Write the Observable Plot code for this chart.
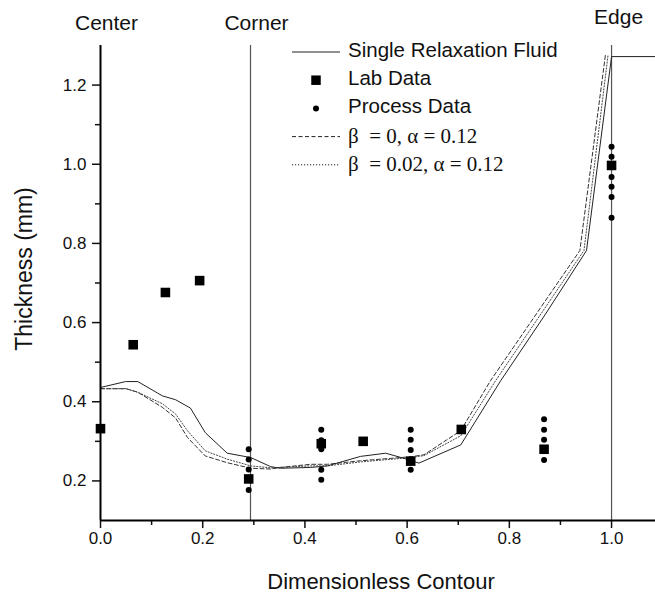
<!DOCTYPE html>
<html>
<head>
<meta charset="utf-8">
<script src="https://cdn.jsdelivr.net/npm/d3@7"></script>
<script src="https://cdn.jsdelivr.net/npm/@observablehq/plot@0.6"></script>
<style>
  body { margin: 0; background: white; }
  #wrap { position: relative; width: 655px; height: 593px; }
  #legend { position: absolute; left: 0; top: 0; pointer-events: none; }
</style>
</head>
<body>
<div id="wrap">
  <div id="chart"></div>
  <svg id="legend" width="655" height="200"></svg>
</div>
<script>
// ---- Data ----
// Single Relaxation Fluid (solid line)
const solidX = [0.0, 0.049, 0.073, 0.121, 0.147, 0.176, 0.205, 0.248, 0.294, 0.333, 0.352, 0.411, 0.444, 0.509, 0.558, 0.594, 0.623, 0.705, 0.783, 0.870, 0.951, 1.000, 1.086];
const solidY = [0.436, 0.451, 0.451, 0.415, 0.405, 0.384, 0.322, 0.270, 0.259, 0.236, 0.232, 0.234, 0.238, 0.262, 0.270, 0.257, 0.245, 0.291, 0.453, 0.620, 0.782, 1.272, 1.272];
// beta = 0, alpha = 0.12 (dashed)
const beta0X = [0.0, 0.05, 0.073, 0.121, 0.147, 0.17, 0.205, 0.248, 0.294, 0.333, 0.352, 0.411, 0.444, 0.509, 0.607, 0.633, 0.705, 0.763, 0.938, 0.988];
const beta0Y = [0.433, 0.433, 0.424, 0.386, 0.359, 0.310, 0.263, 0.246, 0.232, 0.230, 0.234, 0.242, 0.242, 0.251, 0.261, 0.266, 0.327, 0.453, 0.782, 1.276];
// beta = 0.02, alpha = 0.12 (dotted)
const beta02X = [0.0, 0.05, 0.073, 0.121, 0.147, 0.17, 0.205, 0.248, 0.294, 0.333, 0.411, 0.444, 0.509, 0.607, 0.633, 0.705, 0.773, 0.946, 0.993];
const beta02Y = [0.433, 0.433, 0.424, 0.395, 0.369, 0.327, 0.276, 0.255, 0.238, 0.233, 0.238, 0.238, 0.248, 0.259, 0.264, 0.314, 0.453, 0.782, 1.274];
// Lab Data (squares)
const labX = [0.0, 0.064, 0.127, 0.194, 0.29, 0.432, 0.514, 0.607, 0.706, 0.868, 1.0];
const labY = [0.332, 0.544, 0.676, 0.706, 0.205, 0.294, 0.300, 0.250, 0.330, 0.280, 0.997];
// Process Data (dots)
const processX = [0.29, 0.29, 0.29, 0.29, 0.29,
                  0.432, 0.432, 0.432, 0.432, 0.432, 0.432,
                  0.607, 0.607, 0.607, 0.607, 0.607,
                  0.868, 0.868, 0.868, 0.868,
                  1.0, 1.0, 1.0, 1.0, 1.0, 1.0, 1.0];
const processY = [0.280, 0.254, 0.229, 0.205, 0.177,
                  0.329, 0.303, 0.293, 0.280, 0.228, 0.203,
                  0.329, 0.304, 0.278, 0.254, 0.228,
                  0.356, 0.329, 0.304, 0.253,
                  1.044, 1.019, 0.993, 0.968, 0.943, 0.917, 0.865];
// Section markers
const sectionLabels = ["Center", "Corner", "Edge"];
const sectionX = [0.0, 0.2935, 1.0];
// Ticks
const xMajorTicks = [0.0, 0.2, 0.4, 0.6, 0.8, 1.0];
const xMinorTicks = [0.1, 0.3, 0.5, 0.7, 0.9];
const yMajorTicks = [0.2, 0.4, 0.6, 0.8, 1.0, 1.2];
const yMinorTicks = [0.3, 0.5, 0.7, 0.9, 1.1];
// Legend
const legendLabels = ["Single Relaxation Fluid", "Lab Data", "Process Data", "\u03B2\u00A0 = 0, \u03B1 = 0.12", "\u03B2\u00A0 = 0.02, \u03B1 = 0.12"];
const legendKinds = ["solid", "square", "dot", "dashed", "dotted"];

// ---- Build tables ----
const toRows = (xs, ys) => xs.map((x, i) => ({x, y: ys[i]}));
const solid = toRows(solidX, solidY);
const beta0 = toRows(beta0X, beta0Y);
const beta02 = toRows(beta02X, beta02Y);
const lab = toRows(labX, labY);
const proc = toRows(processX, processY);
const sections = sectionLabels.map((t, i) => ({t, x: sectionX[i]}));

const sans = "'Liberation Sans', Arial, Helvetica, sans-serif";
const serif = "'Liberation Serif', 'Times New Roman', serif";
const dashes = {solid: null, dashed: "4,2.5", dotted: "1.2,1.8"};

const chart = Plot.plot({
  width: 655,
  height: 593,
  marginTop: 45,
  marginBottom: 73,
  marginLeft: 100,
  marginRight: 0,
  x: {domain: [0, 1.086]},
  y: {domain: [0.1, 1.3]},
  style: {fontFamily: sans, fontSize: "17px", color: "#111", background: "white", overflow: "visible"},
  marks: [
    Plot.ruleX(sections.filter(d => d.x > 0), {x: "x", stroke: "#555", strokeWidth: 1.2}),
    Plot.line(beta0, {x: "x", y: "y", stroke: "#333", strokeWidth: 1, strokeDasharray: dashes.dashed}),
    Plot.line(beta02, {x: "x", y: "y", stroke: "#444", strokeWidth: 1, strokeDasharray: dashes.dotted}),
    Plot.line(solid, {x: "x", y: "y", stroke: "#222", strokeWidth: 1}),
    Plot.dot(proc, {x: "x", y: "y", r: 3, fill: "black", stroke: "none"}),
    Plot.dot(lab, {x: "x", y: "y", symbol: "square", r: 5.4, fill: "black", stroke: "none"}),
    Plot.axisX({ticks: xMajorTicks, tickSize: 8, tickPadding: 3, tickFormat: d3.format(".1f"), label: null, strokeWidth: 1.5, fontSize: 17}),
    Plot.axisX({ticks: xMinorTicks, tickSize: 5, tickFormat: () => "", label: null, strokeWidth: 1.5}),
    Plot.axisY({ticks: yMajorTicks, tickSize: 8, tickPadding: 6, tickFormat: d3.format(".1f"), label: null, strokeWidth: 1.5, fontSize: 17}),
    Plot.axisY({ticks: yMinorTicks, tickSize: 5, tickFormat: () => "", label: null, strokeWidth: 1.5}),
    Plot.ruleY([0.1], {stroke: "black", strokeWidth: 2}),
    Plot.ruleX([0], {stroke: "black", strokeWidth: 2}),
    Plot.text(sections.filter(d => d.t !== "Edge"), {x: "x", text: "t", frameAnchor: "top", lineAnchor: "middle", textAnchor: "middle", dy: -22, dx: 6, fontSize: 21, fill: "#111"}),
    Plot.text(sections.filter(d => d.t === "Edge"), {x: "x", text: "t", frameAnchor: "top", lineAnchor: "middle", textAnchor: "middle", dy: -28, dx: 7, fontSize: 21, fill: "#111"}),
    Plot.text(["Thickness (mm)"], {frameAnchor: "left", textAnchor: "middle", lineAnchor: "middle", dx: -76, dy: -14, rotate: -90, fontSize: 23, fill: "#111"}),
    Plot.text(["Dimensionless Contour"], {frameAnchor: "bottom", textAnchor: "middle", lineAnchor: "middle", dx: 3, dy: 61, fontSize: 22, fill: "#111"})
  ]
});
document.getElementById("chart").appendChild(chart);

// ---- Legend overlay ----
const leg = d3.select("#legend");
const rowY0 = 52, rowStep = 28.2, symX0 = 292, symX1 = 340, textX = 348;
legendKinds.forEach((k, i) => {
  const y = rowY0 + i * rowStep;
  const cx = (symX0 + symX1) / 2;
  if (k === "square") {
    leg.append("rect").attr("x", cx - 4.75).attr("y", y - 4.75).attr("width", 9.5).attr("height", 9.5).attr("fill", "black");
  } else if (k === "dot") {
    leg.append("circle").attr("cx", cx).attr("cy", y).attr("r", 3).attr("fill", "black");
  } else {
    leg.append("line").attr("x1", symX0).attr("x2", symX1).attr("y1", y).attr("y2", y)
      .attr("stroke", "#222").attr("stroke-width", 1)
      .attr("stroke-dasharray", dashes[k]);
  }
  const isSerif = k === "dashed" || k === "dotted";
  leg.append("text").attr("x", textX).attr("y", y + (isSerif ? 6 : 5))
    .attr("font-family", isSerif ? serif : sans)
    .attr("font-size", isSerif ? 21 : 20.5)
    .attr("fill", "#111")
    .style("white-space", "pre")
    .text(legendLabels[i]);
});
</script>
</body>
</html>
